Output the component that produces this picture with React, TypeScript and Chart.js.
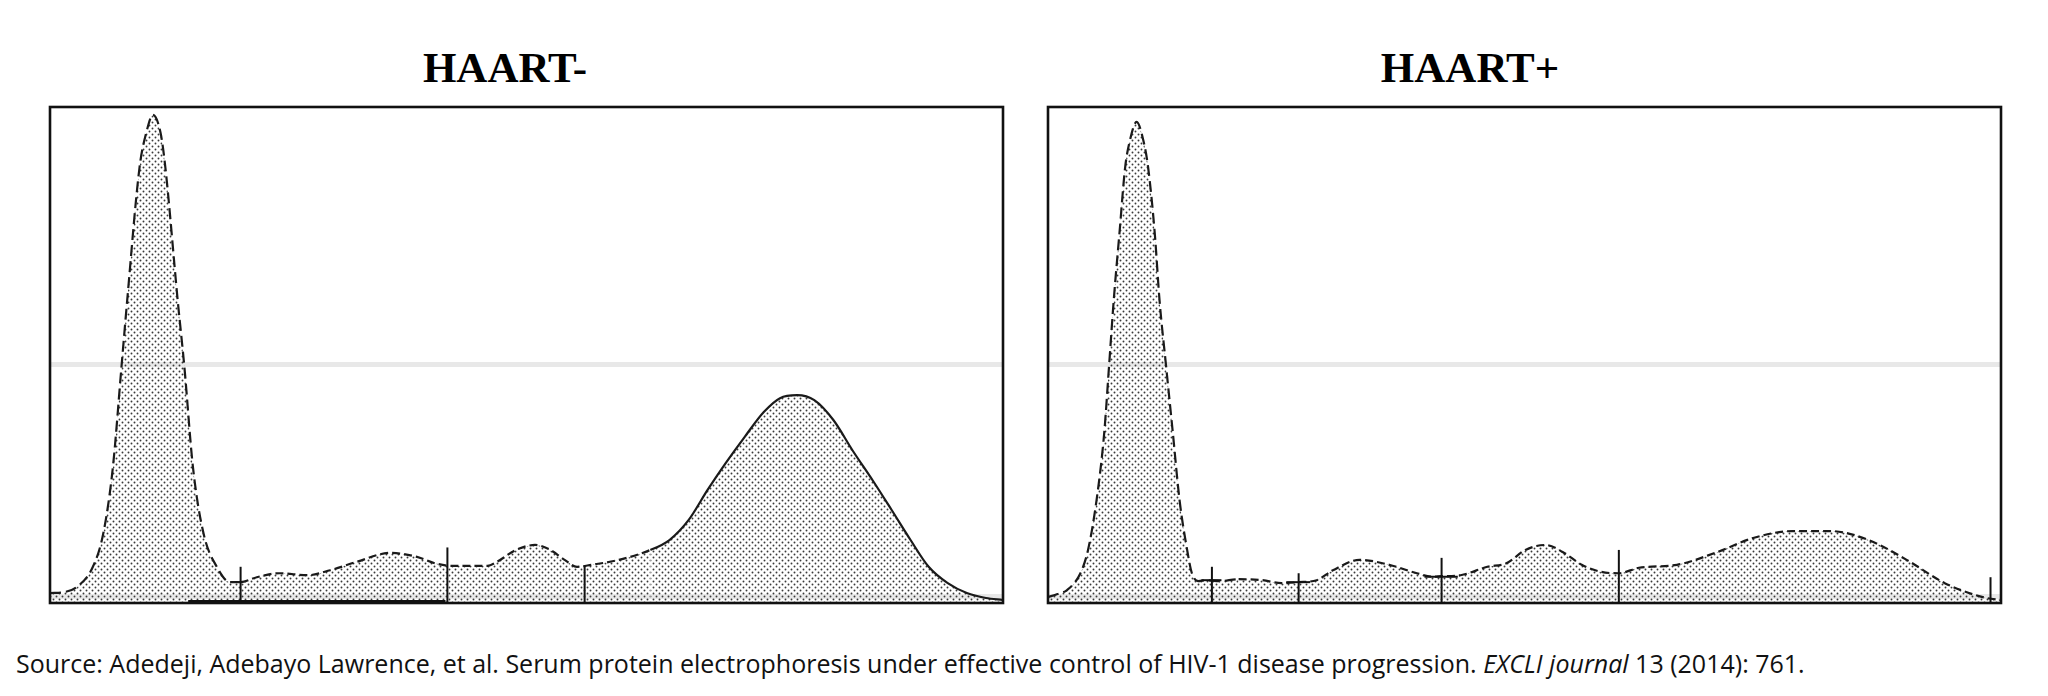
import React, { useEffect, useRef } from 'react';
import { Chart, registerables } from 'chart.js';

Chart.register(...registerables);

// HAART- densitometry trace (x: migration 0-100, y: relative absorbance 0-100)
const haartNegX = [0, 1.5, 2.8, 4.5, 5.6, 6.6, 7.5, 8.1, 9.4, 10.1, 10.8, 11.6, 12.1, 13.4, 14.1, 15.0, 16.1, 17.5, 18.9, 20.0, 21.7, 24.1, 27.0, 29.4, 32.2, 35.7, 38.5, 40.4, 42.1, 45.9, 46.9, 48.9, 50.9, 52.5, 54.0, 55.3, 56.8, 59.7, 63.0, 65.0, 67.0, 69.0, 70.9, 72.9, 74.9, 76.6, 78.4, 80.2, 82.2, 84.2, 86.3, 88.3, 90.3, 92.2, 94.2, 96.2, 98.2, 100];
const haartNegY = [2.0, 2.2, 3.2, 7.3, 14.1, 27.4, 47.6, 61.0, 87.9, 94.8, 98.4, 94.8, 87.9, 61.0, 47.6, 27.4, 14.1, 7.3, 4.2, 4.2, 5.2, 6.0, 5.6, 6.6, 8.3, 10.1, 9.3, 8.0, 7.5, 7.5, 8.3, 10.7, 11.7, 10.7, 8.7, 7.3, 7.7, 8.7, 10.7, 12.7, 16.7, 22.8, 28.2, 33.5, 38.5, 41.3, 41.9, 40.9, 36.9, 30.8, 24.8, 18.8, 12.7, 7.3, 4.0, 2.0, 1.0, 0.6];
const haartNegMarkX = [20.0, 41.7, 56.1];
const haartNegMarkTop = [7.3, 11.2, 7.5];
// the darker, heavier stretch of baseline under the first fractions
const haartNegBaseX = [14.5, 41.5];

// HAART+ densitometry trace
const haartPosX = [0, 1.0, 2.0, 3.4, 4.2, 5.1, 5.9, 6.4, 6.9, 7.5, 8.1, 8.6, 9.3, 10.0, 10.5, 11.2, 11.7, 12.4, 13.1, 13.8, 14.6, 15.1, 15.8, 16.5, 18.0, 20.0, 22.5, 24.5, 26.3, 28.2, 29.9, 32.7, 35.8, 38.7, 40.4, 41.3, 43.3, 46.1, 48.1, 50.1, 52.2, 54.0, 56.0, 58.0, 59.9, 62.0, 66.0, 70.0, 74.0, 78.1, 82.1, 86.1, 90.1, 94.1, 97.3, 98.5, 100];
const haartPosY = [1.2, 1.8, 2.6, 6.0, 10.7, 20.8, 34.3, 47.6, 61.1, 74.6, 87.9, 93.3, 97.0, 93.3, 87.9, 74.6, 61.1, 47.6, 34.3, 20.8, 10.7, 6.0, 4.4, 4.6, 4.4, 4.8, 4.6, 4.0, 4.2, 4.6, 6.6, 8.7, 7.7, 6.0, 5.3, 5.4, 5.6, 7.3, 8.0, 10.7, 11.7, 10.3, 7.7, 6.3, 6.0, 7.1, 7.7, 10.1, 13.1, 14.5, 14.5, 12.7, 8.7, 4.0, 1.6, 1.0, 0.6];
const haartPosMarkX = [17.2, 26.3, 41.3, 59.9, 98.9];
const haartPosMarkTop = [7.3, 6.0, 9.1, 10.7, 5.2];
const haartPosBarX0 = [16.1, 25.0, 39.5];
const haartPosBarX1 = [18.2, 27.5, 43.0];
const haartPosBarY = [4.6, 4.2, 5.3];

// faint scanner bands across both plots
const bandY = [48, 1.4];

const makeDots = (): CanvasPattern | string => {
  const c = document.createElement('canvas');
  c.width = 6;
  c.height = 6;
  const g = c.getContext('2d');
  if (!g) return 'rgba(0,0,0,0.3)';
  g.fillStyle = '#3a3a3a';
  g.beginPath();
  g.arc(1.5, 1.5, 0.95, 0, Math.PI * 2);
  g.arc(4.5, 4.5, 0.95, 0, Math.PI * 2);
  g.fill();
  const p = g.createPattern(c, 'repeat');
  return p || 'rgba(0,0,0,0.3)';
};

const framePlugin = {
  id: 'frame',
  afterDraw(chart: any) {
    const { ctx, chartArea: a } = chart;
    ctx.save();
    ctx.strokeStyle = '#111';
    ctx.lineWidth = 2.6;
    ctx.strokeRect(a.left, a.top, a.right - a.left, a.bottom - a.top);
    ctx.restore();
  }
};

interface IPanel {
  xs: number[];
  ys: number[];
  markX: number[];
  markTop: number[];
  barX0?: number[];
  barX1?: number[];
  barY?: number[];
  baseX?: number[];
  solidFrom: number;
  left: number;
}

const Panel: React.FC<IPanel> = ({ xs, ys, markX, markTop, barX0 = [], barX1 = [], barY = [], baseX = [], solidFrom, left }) => {
  const canvasRef = useRef<HTMLCanvasElement>(null);

  useEffect(() => {
    if (!canvasRef.current) return;
    const dots = makeDots();

    const marks = markX.map((x, i) => ({
      data: [{ x, y: 0 }, { x, y: markTop[i] }],
      borderColor: '#111',
      borderWidth: 2,
      pointRadius: 0,
      fill: false,
      order: 0
    }));
    const bars = barX0.map((x0, i) => ({
      data: [{ x: x0, y: barY[i] }, { x: barX1[i], y: barY[i] }],
      borderColor: '#111',
      borderWidth: 2,
      pointRadius: 0,
      fill: false,
      order: 0
    }));
    const base = baseX.length
      ? [
          {
            data: baseX.map((x) => ({ x, y: 0.2 })),
            borderColor: '#111',
            borderWidth: 4,
            pointRadius: 0,
            fill: false,
            order: 0
          }
        ]
      : [];

    const chart = new Chart(canvasRef.current, {
      type: 'line',
      data: {
        datasets: [
          {
            data: xs.map((x, i) => ({ x, y: ys[i] })),
            borderColor: '#1a1a1a',
            borderWidth: 2.2,
            backgroundColor: dots as any,
            fill: 'origin',
            pointRadius: 0,
            cubicInterpolationMode: 'monotone',
            order: 1,
            segment: {
              borderDash: (ctx: any) => {
                const x = ctx.p0.parsed.x;
                if (x >= solidFrom) return [];
                return x < 19 ? [11, 5] : [8, 4];
              }
            }
          } as any,
          ...marks,
          ...bars,
          ...base
        ]
      },
      options: {
        animation: false,
        responsive: false,
        maintainAspectRatio: false,
        layout: { padding: { left: 10, right: 12, top: 7, bottom: 12 } },
        plugins: { legend: { display: false }, tooltip: { enabled: false }, title: { display: false } },
        scales: {
          x: { type: 'linear', min: 0, max: 100, display: false },
          y: {
            type: 'linear',
            min: 0,
            max: 100,
            display: true,
            afterBuildTicks: (s: any) => {
              s.ticks = bandY.map((v) => ({ value: v }));
            },
            ticks: { display: false },
            border: { display: false },
            grid: { color: '#e8e8e8', lineWidth: 5, drawTicks: false }
          }
        }
      },
      plugins: [framePlugin]
    });

    return () => chart.destroy();
  }, [xs, ys, markX, markTop, barX0, barX1, barY, baseX, solidFrom]);

  return (
    <div style={{ position: 'absolute', left, top: 100, width: 975, height: 515 }}>
      <canvas ref={canvasRef} width={975} height={515} />
    </div>
  );
};

const titleStyle: React.CSSProperties = {
  position: 'absolute',
  top: 46,
  width: 400,
  textAlign: 'center',
  fontFamily: '"Liberation Serif", "Times New Roman", serif',
  fontWeight: 'bold',
  fontSize: 43,
  lineHeight: '43px',
  color: '#000'
};

export default function App() {
  return (
    <div style={{ position: 'fixed', left: 0, top: 0, width: 2048, height: 696, background: '#fff', overflow: 'hidden' }}>
      <div style={{ ...titleStyle, left: 505 - 200 }}>HAART-</div>
      <div style={{ ...titleStyle, left: 1470 - 200 }}>HAART+</div>
      <Panel
        xs={haartNegX}
        ys={haartNegY}
        markX={haartNegMarkX}
        markTop={haartNegMarkTop}
        baseX={haartNegBaseX}
        solidFrom={63}
        left={40}
      />
      <Panel
        xs={haartPosX}
        ys={haartPosY}
        markX={haartPosMarkX}
        markTop={haartPosMarkTop}
        barX0={haartPosBarX0}
        barX1={haartPosBarX1}
        barY={haartPosBarY}
        solidFrom={101}
        left={1038}
      />
      <div
        style={{
          position: 'absolute',
          left: 16,
          top: 651,
          fontFamily: '"Open Sans", Lato, sans-serif',
          fontSize: 25,
          lineHeight: '25px',
          color: '#111',
          whiteSpace: 'nowrap'
        }}
      >
        Source: Adedeji, Adebayo Lawrence, et al. Serum protein electrophoresis under effective control of HIV-1 disease progression.{' '}
        <i>EXCLI journal</i> 13 (2014): 761.
      </div>
    </div>
  );
}
